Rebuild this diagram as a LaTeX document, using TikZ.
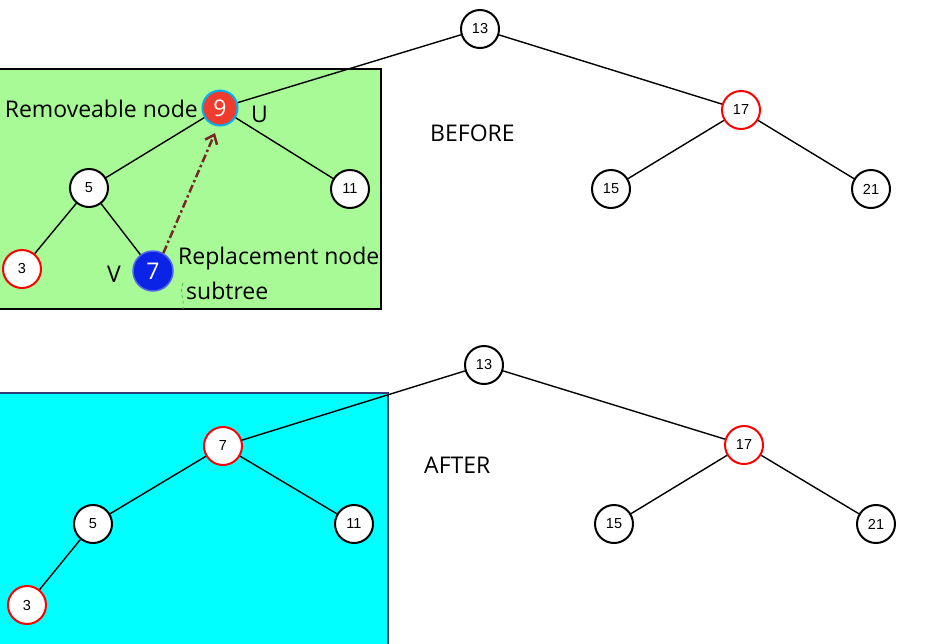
\documentclass[tikz,border=0pt]{standalone}
\usepackage{fontspec}
\setmainfont{Open Sans}
\newfontfamily\numfont{Liberation Sans}
\usetikzlibrary{arrows.meta}
\definecolor{boxgreen}{RGB}{168,250,150}
\definecolor{boxcyan}{RGB}{0,255,255}
\definecolor{cyanborder}{RGB}{50,60,120}
\definecolor{arrowbrown}{RGB}{120,40,40}
\definecolor{redfill}{RGB}{240,60,45}
\definecolor{bluefill}{RGB}{10,35,230}
\tikzset{
  tn/.style={circle, draw=black, line width=2pt, fill=white, minimum size=38pt, inner sep=0pt, font=\numfont\fontsize{14.5}{14.5}\selectfont},
  rn/.style={tn, draw=red},
  edge/.style={line width=1.4pt, black},
  lbl/.style={font=\fontsize{23}{23}\selectfont, inner sep=0pt},
}
\begin{document}
\begin{tikzpicture}[x=1pt,y=-1pt]
\useasboundingbox (0,0) rectangle (952,643);
% boxes
\fill[boxgreen] (-2,69) rectangle (381,309);
\draw[black, line width=1.5pt] (-2,69) -- (381,69) -- (381,309) -- (-2,309);
\fill[boxcyan] (-2,393) rectangle (388,645);
\draw[cyanborder, line width=2pt] (-2,393) -- (388,393) -- (388,645);

% BEFORE tree
\node[tn] (b13) at (480,29) {13};
\node[rn] (b17) at (741,110) {17};
\node[tn] (b15) at (611,189) {15};
\node[tn] (b21) at (871,189) {21};
\node[circle, fill=redfill, draw=cyan, line width=2pt, minimum size=35pt, inner sep=0pt, text=white, font=\fontsize{23}{23}\selectfont] (b9) at (220,108) {9};
\node[tn] (b5) at (89,188) {5};
\node[tn] (b11) at (350,189) {11};
\node[rn] (b3) at (22,269) {3};
\node[circle, fill=bluefill, draw=bluefill!70!white, line width=1.5pt, minimum size=40pt, inner sep=0pt, text=white, font=\fontsize{23}{23}\selectfont] (b7) at (153,271) {7};

\draw[edge] (b13) -- (b9);
\draw[edge] (b13) -- (b17);
\draw[edge] (b17) -- (b15);
\draw[edge] (b17) -- (b21);
\draw[edge] (b9) -- (b5);
\draw[edge] (b9) -- (b11);
\draw[edge] (b5) -- (b3);
\draw[edge] (b5) -- (b7);

\coordinate (arrTip) at (215,133);
\draw[arrowbrown, line width=2.5pt, dash pattern=on 8pt off 3pt on 2.5pt off 3pt, -{Straight Barb[length=8pt,width=13pt]}] (b7.60) -- (arrTip);
\draw[green!50!gray, line width=0.8pt, dashed] (183,283) .. controls (179,293) and (185,300) .. (183,309);

\node[lbl, anchor=east] (lrem) at (198,109) {Removeable node};
\node[lbl, anchor=west] (lu) at (251,114) {U};
\node[lbl, anchor=center] (lv) at (114,274) {V};
\node[lbl, anchor=west] (lrep) at (178,259) {Replacement node};
\node[lbl, anchor=west] (lsub) at (186,291) {subtree};
\node[lbl, anchor=west] (lbefore) at (430,133) {BEFORE};

% AFTER tree
\node[tn] (a13) at (484,365) {13};
\node[rn] (a17) at (744,445) {17};
\node[tn] (a15) at (614,524) {15};
\node[tn] (a21) at (876,524) {21};
\node[rn] (a7) at (223,446) {7};
\node[tn] (a5) at (93,524) {5};
\node[tn] (a11) at (354,524) {11};
\node[rn] (a3) at (27,605) {3};

\draw[edge] (a13) -- (a7);
\draw[edge] (a13) -- (a17);
\draw[edge] (a17) -- (a15);
\draw[edge] (a17) -- (a21);
\draw[edge] (a7) -- (a5);
\draw[edge] (a7) -- (a11);
\draw[edge] (a5) -- (a3);

\node[lbl, anchor=west] (lafter) at (424,465) {AFTER};
\end{tikzpicture}
\end{document}
